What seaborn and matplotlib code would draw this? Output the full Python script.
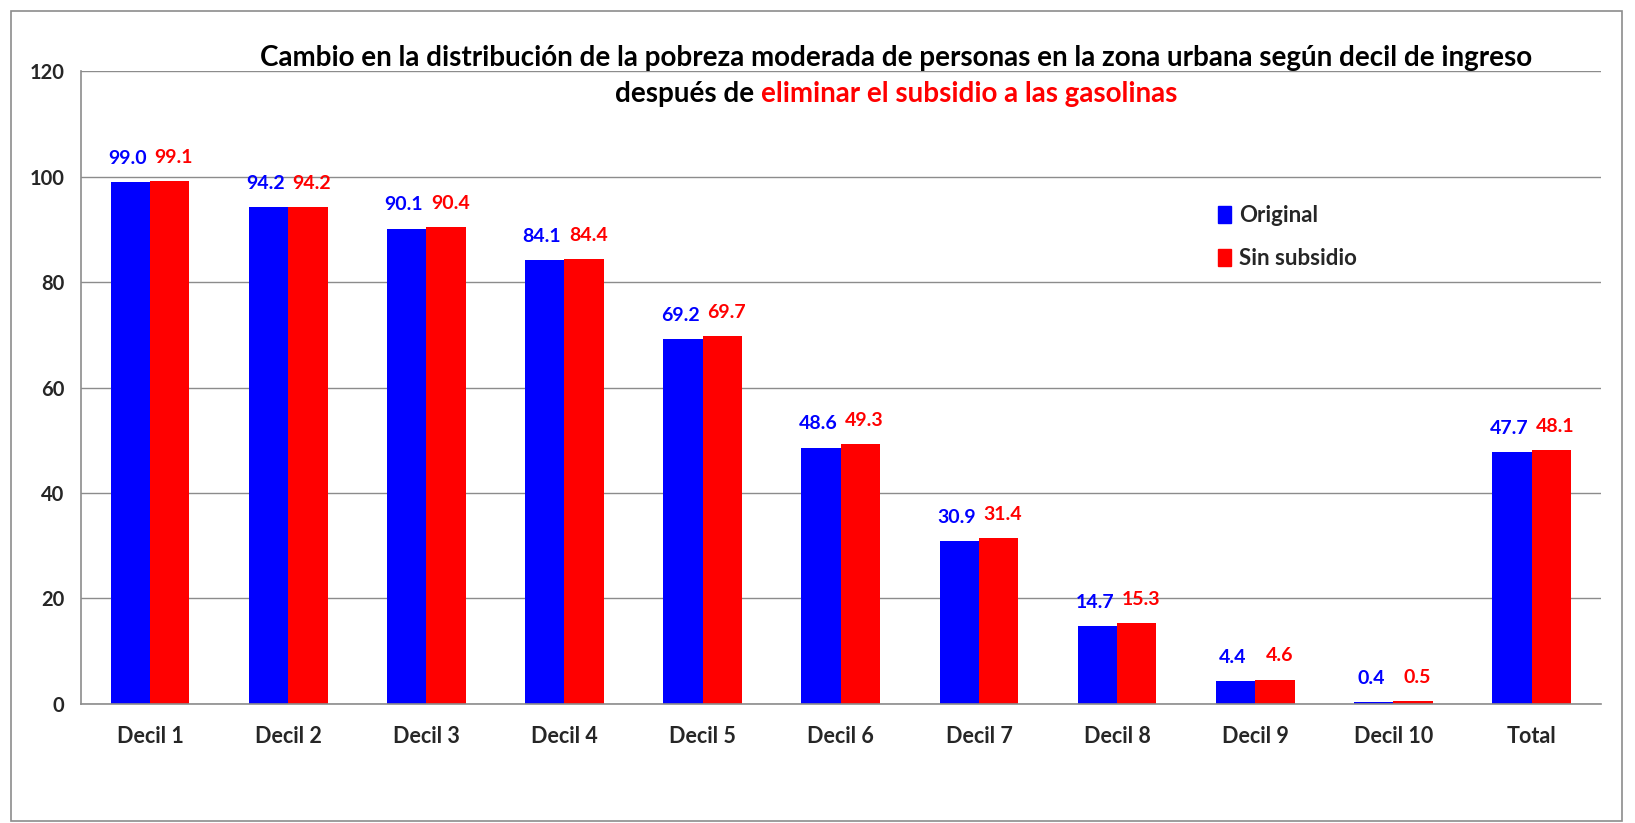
import numpy as np
import pandas as pd
import matplotlib
matplotlib.use("Agg")
import matplotlib.pyplot as plt
import seaborn as sns
from matplotlib.patches import Rectangle

# data
categories = ['Decil 1', 'Decil 2', 'Decil 3', 'Decil 4', 'Decil 5', 'Decil 6',
              'Decil 7', 'Decil 8', 'Decil 9', 'Decil 10', 'Total']
original = [99.0, 94.2, 90.1, 84.1, 69.2, 48.6, 30.9, 14.7, 4.4, 0.4, 47.7]
sin_subsidio = [99.1, 94.2, 90.4, 84.4, 69.7, 49.3, 31.4, 15.3, 4.6, 0.5, 48.1]
series_names = ['Original', 'Sin subsidio']
series_colors = ['#0000FF', '#FF0000']
y_ticks = [0, 20, 40, 60, 80, 100, 120]

sns.set_style('white')
plt.rcParams['font.family'] = ['Lato', 'DejaVu Sans']
plt.rcParams['font.weight'] = 'bold'

df = pd.DataFrame({
    'categoria': categories * 2,
    'valor': original + sin_subsidio,
    'serie': [series_names[0]] * len(categories) + [series_names[1]] * len(categories),
})

fig = plt.figure(figsize=(16.35, 8.23), dpi=100)
ax = fig.add_axes([0.0495, 0.1446, 0.9295, 0.7691])

sns.barplot(data=df, x='categoria', y='valor', hue='serie', order=categories,
            hue_order=series_names, palette=series_colors, saturation=1,
            width=0.57, gap=0, ax=ax, legend=False, errorbar=None, linewidth=0)

# data labels above the bars, nudged apart a little like in the original
for cont, col, dx in zip(ax.containers, series_colors, [-2, 3]):
    for bar, v in zip(cont, cont.datavalues):
        ax.annotate(f'{v:.1f}', (bar.get_x() + bar.get_width() / 2, v),
                    xytext=(dx, 11), textcoords='offset points', ha='center', va='bottom',
                    color=col, fontsize=14, fontweight='bold')

ax.set_ylim(0, 120)
ax.set_xlim(-0.5, len(categories) - 0.5)
ax.set_yticks(y_ticks)
ax.set_xlabel('')
ax.set_ylabel('')
ax.grid(axis='y', color='#8c8c8c', linewidth=1)
ax.set_axisbelow(True)
for s in ['top', 'right']:
    ax.spines[s].set_visible(False)
for s in ['left', 'bottom']:
    ax.spines[s].set_color('#8c8c8c')
    ax.spines[s].set_linewidth(1.2)

ax.tick_params(axis='y', length=6, color='#8c8c8c', pad=6, labelsize=14.5)
ax.tick_params(axis='x', which='major', length=0, pad=16, labelsize=15.5)
ax.set_xticks(np.arange(-0.5, len(categories)), minor=True)
ax.tick_params(axis='x', which='minor', length=7, color='#8c8c8c', width=1.2)
for lab in ax.get_xticklabels() + ax.get_yticklabels():
    lab.set_fontweight('bold')

# legend
handles = [Rectangle((0, 0), 1, 1, color=c) for c in series_colors]
ax.legend(handles, series_names, loc='upper left', bbox_to_anchor=(0.735, 0.82),
          frameon=False, handlelength=0.6, handleheight=0.8, handletextpad=0.35,
          labelspacing=1.0, prop={'size': 16, 'weight': 'bold'})

# title, second line in two colours
title_size = 20
fig.text(0.548, 0.930, 'Cambio en la distribución de la pobreza moderada de personas en la zona urbana según decil de ingreso',
         ha='center', va='center', fontsize=title_size, fontweight='bold', color='black')
t1 = fig.text(0, 0.886, 'después de ', ha='left', va='center', fontsize=title_size, fontweight='bold', color='black')
t2 = fig.text(0, 0.886, 'eliminar el subsidio a las gasolinas', ha='left', va='center',
              fontsize=title_size, fontweight='bold', color='#FF0000')
r = fig.canvas.get_renderer()
w1 = t1.get_window_extent(r).width / fig.bbox.width
w2 = t2.get_window_extent(r).width / fig.bbox.width
x0 = 0.548 - (w1 + w2) / 2
t1.set_x(x0)
t2.set_x(x0 + w1)

# outer border of the chart area
fig.patches.append(Rectangle((0.007, 0.003), 0.985, 0.984, transform=fig.transFigure,
                             fill=False, edgecolor='#8c8c8c', linewidth=1.2))

fig.savefig('out.png', dpi=100)
